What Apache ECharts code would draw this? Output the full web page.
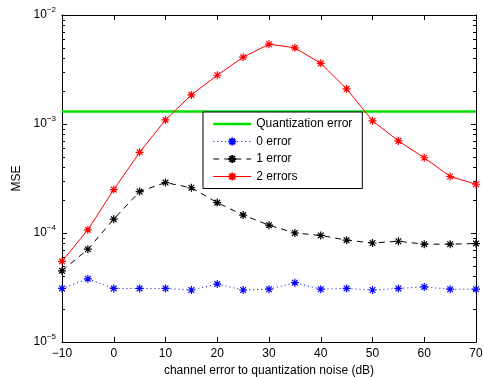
<!DOCTYPE html>
<html><head><meta charset="utf-8">
<script src="https://cdn.jsdelivr.net/npm/echarts@6/dist/echarts.min.js"></script>
<style>html,body{margin:0;padding:0;background:#fff;overflow:hidden}#c{width:484px;height:377px}</style>
</head><body><div id="c"></div>
<script>
const xValues = [-10,-5,0,5,10,15,20,25,30,35,40,45,50,55,60,65,70];
const quantizationError = 1.3e-3;
const err0 = [3.1e-5,3.8e-5,3.1e-5,3.1e-5,3.1e-5,3.0e-5,3.4e-5,3.0e-5,3.05e-5,3.5e-5,3.05e-5,3.1e-5,3.0e-5,3.1e-5,3.2e-5,3.05e-5,3.05e-5];
const err1 = [4.5e-5,7.1e-5,1.34e-4,2.4e-4,2.9e-4,2.6e-4,1.9e-4,1.46e-4,1.18e-4,1.0e-4,9.5e-5,8.6e-5,8.1e-5,8.4e-5,7.9e-5,7.9e-5,8.0e-5];
const err2 = [5.5e-5,1.07e-4,2.5e-4,5.5e-4,1.09e-3,1.85e-3,2.8e-3,4.1e-3,5.4e-3,5.0e-3,3.6e-3,2.1e-3,1.07e-3,7.0e-4,4.9e-4,3.3e-4,2.8e-4];
const xTicks = [-10,0,10,20,30,40,50,60,70];
const yDecades = [1e-5,1e-4,1e-3,1e-2];
const minorMantissas = [2,3,4,5,6,7,8,9];
const seriesNames = ['Quantization error','0 error','1 error','2 errors'];
const colors = ['#00e000','#0000ff','#000000','#ff0000'];
const dashes = ['solid',[1,3],[6,5],'solid'];

const minorValues = [];
yDecades.slice(0,-1).forEach(d => minorMantissas.forEach(m => minorValues.push(m*d)));

const star = 'path://M0,-1L0,1M-1,0L1,0M-0.71,-0.71L0.71,0.71M-0.71,0.71L0.71,-0.71';
const FONT = 'Liberation Sans, Arial, Helvetica, sans-serif';
const pairs = arr => xValues.map((x,i)=>[x,arr[i]]);
function mkSeries(i, arr){
  return {name:seriesNames[i], type:'line', data:pairs(arr), symbol:star, symbolSize:8,
    lineStyle:{color:colors[i], width:1, type:dashes[i]}, itemStyle:{color:'rgba(0,0,0,0)', borderColor:colors[i], borderWidth:1.2},
    emphasis:{disabled:true}, animation:false, z:3};
}
const yLabel = {
  fontFamily: FONT, color:'#000',
  formatter: v => { const e = Math.round(Math.log10(v)); return '{b|10}{s|' + (e<0?'\u2212':'') + Math.abs(e) + '}'; },
  rich:{ b:{fontSize:12, fontFamily:FONT, color:'#000'}, s:{fontSize:8, fontFamily:FONT, color:'#000', padding:[0,0,10,0]} }
};
const tickStyle = {inside:true, length:5, lineStyle:{color:'#000', width:1}};
function minorAxis(pos){
  return {type:'log', logBase:10, min:yDecades[0], max:yDecades[yDecades.length-1], position:pos, offset:0,
    axisLine:{show:false, onZero:false},
    axisTick:{show:true, inside:true, length:3, customValues:minorValues, lineStyle:{color:'#000', width:1}},
    axisLabel:{show:false}, splitLine:{show:false}};
}
const chart = echarts.init(document.getElementById('c'), null, {renderer:'canvas', width:484, height:377});
chart.setOption({
  animation:false,
  backgroundColor:'#fff',
  grid:{left:62, right:8, top:15, bottom:35, containLabel:false, outerBoundsMode:'none'},
  xAxis:[{type:'value', min:-10, max:70, interval:10, position:'bottom',
    name:'channel error to quantization noise (dB)', nameLocation:'middle', nameGap:22,
    nameTextStyle:{fontFamily:FONT, fontSize:12, color:'#000'},
    axisLine:{onZero:false, lineStyle:{color:'#000', width:1}}, axisTick:tickStyle,
    axisLabel:{fontFamily:FONT, fontSize:12, color:'#000', margin:6, formatter:v=> (v<0?'\u2212':'')+Math.abs(v)},
    splitLine:{show:false}},
   {type:'value', min:-10, max:70, interval:10, position:'top',
    axisLine:{onZero:false, lineStyle:{color:'#000', width:1}}, axisTick:tickStyle,
    axisLabel:{show:false}, splitLine:{show:false}}],
  yAxis:[{type:'log', logBase:10, min:1e-5, max:1e-2, position:'left',
    name:'MSE', nameLocation:'middle', nameGap:33, nameRotate:90,
    nameTextStyle:{fontFamily:FONT, fontSize:12, color:'#000'},
    axisLine:{show:true, onZero:false, lineStyle:{color:'#000', width:1}}, axisTick:tickStyle,
    axisLabel:Object.assign({margin:6}, yLabel), splitLine:{show:false}},
   {type:'log', logBase:10, min:1e-5, max:1e-2, position:'right',
    axisLine:{show:true, onZero:false, lineStyle:{color:'#000', width:1}}, axisTick:tickStyle,
    axisLabel:{show:false}, splitLine:{show:false}},
   minorAxis('left'),
   minorAxis('right')],
  legend:{
    left:203, top:112, width:157, orient:'vertical', align:'left',
    backgroundColor:'#fff', borderColor:'#000', borderWidth:1, borderRadius:0,
    padding:[6,10,6,9], itemWidth:38, itemHeight:10, itemGap:5.5,
    textStyle:{fontFamily:FONT, fontSize:12, color:'#000'},
    lineStyle:{width:1},
    selectedMode:false,
    data:[
      {name:seriesNames[0], itemStyle:{color:'rgba(0,0,0,0)', borderWidth:0, opacity:0}, lineStyle:{width:2.5, color:colors[0]}},
      {name:seriesNames[1], lineStyle:{width:1, color:colors[1], type:dashes[1]}},
      {name:seriesNames[2], lineStyle:{width:1, color:colors[2], type:dashes[2]}},
      {name:seriesNames[3], lineStyle:{width:1, color:colors[3]}}
    ]
  },
  series:[
    {name:seriesNames[0], type:'line', data:[[xValues[0],quantizationError],[xValues[xValues.length-1],quantizationError]],
      symbol:'none', lineStyle:{color:colors[0], width:2.5}, itemStyle:{color:colors[0]}, emphasis:{disabled:true}, z:2},
    mkSeries(1, err0),
    mkSeries(2, err1),
    mkSeries(3, err2)
  ]
});
</script></body></html>
